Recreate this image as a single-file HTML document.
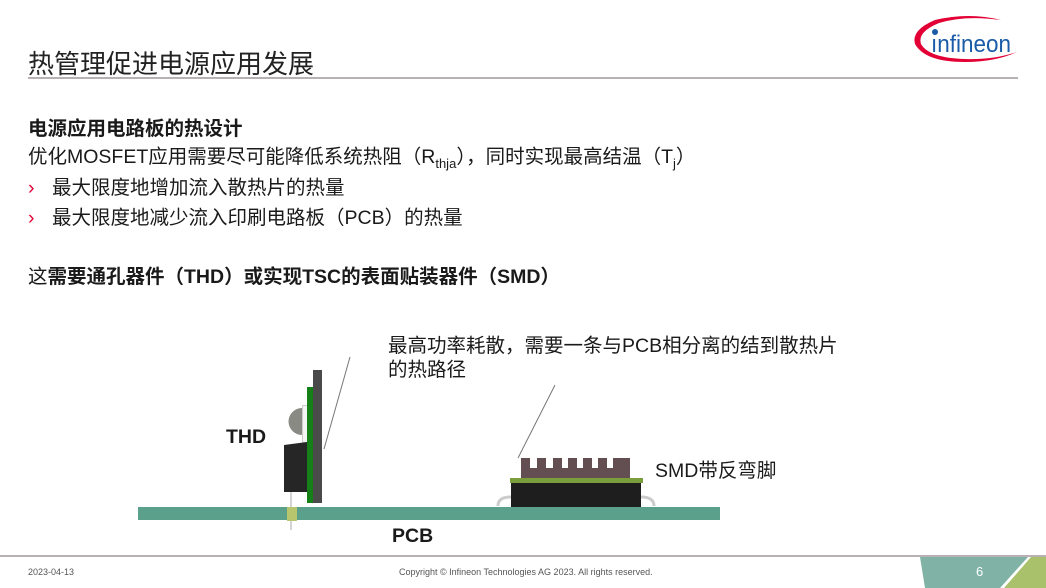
<!DOCTYPE html>
<html><head><meta charset="utf-8"><style>
body{margin:0;width:1046px;height:588px;position:relative;background:#fff;overflow:hidden;font-family:"Liberation Sans","Noto Sans CJK SC",sans-serif;color:#1a1a1a}
.a{position:absolute;white-space:nowrap}
</style></head><body>
<div class="a" style="left:28px;top:44px;font-size:26px;color:#222">热管理促进电源应用发展</div>
<div class="a" style="left:28px;top:77px;width:990px;height:2px;background:#b8b0b3"></div>
<svg class="a" style="left:905px;top:10px" width="120" height="60" viewBox="0 0 120 60">
<path d="M30 10 Q6 20 10 34 Q20 52 60 52 Q90 52 112 42 Q88 50 60 49 Q24 48 16 34 Q12 22 34 13 Q60 5 96 10 Q64 2 30 10Z" fill="#e30034"/>
<circle cx="30" cy="22" r="3" fill="#1a5ba8"/>
<text x="26" y="42" font-family="Liberation Sans" font-size="24" fill="#1a5ba8" textLength="80" lengthAdjust="spacingAndGlyphs">ınfineon</text>
</svg>
<div class="a" style="left:28px;top:112px;font-size:19.5px;font-weight:bold">电源应用电路板的热设计</div>
<div class="a" style="left:28px;top:140px;font-size:19.5px">优化MOSFET应用需要尽可能降低系统热阻（R<sub style="font-size:13px">thja</sub>），同时实现最高结温（T<sub style="font-size:13px">j</sub>）</div>
<div class="a" style="left:28px;top:171px;font-size:19.5px"><span style="color:#e30034;display:inline-block;width:24px">›</span>最大限度地增加流入散热片的热量</div>
<div class="a" style="left:28px;top:201px;font-size:19.5px"><span style="color:#e30034;display:inline-block;width:24px">›</span>最大限度地减少流入印刷电路板（PCB）的热量</div>
<div class="a" style="left:28px;top:260px;font-size:19.5px;font-weight:bold"><span style="font-weight:normal">这</span>需要通孔器件（THD）或实现TSC的表面贴装器件（SMD）</div>
<div class="a" style="left:388px;top:334px;font-size:19.5px;line-height:24px">最高功率耗散，需要一条与PCB相分离的结到散热片<br>的热路径</div>
<div class="a" style="left:226px;top:426px;font-size:19.5px;font-weight:bold">THD</div>
<div class="a" style="left:655px;top:454px;font-size:19.5px">SMD带反弯脚</div>
<div class="a" style="left:392px;top:525px;font-size:19.5px;font-weight:bold">PCB</div>
<svg class="a" style="left:0;top:0" width="1046" height="588">
<line x1="350" y1="357" x2="324" y2="449" stroke="#777" stroke-width="1"/>
<line x1="555" y1="385" x2="518" y2="458" stroke="#777" stroke-width="1"/>
<rect x="138" y="507" width="582" height="13" fill="#5aa08a"/>
<line x1="291" y1="492" x2="291" y2="530" stroke="#aaa"/>
<path d="M302 408 a13 13 0 0 0 0 27z" fill="#8a8a84"/>
<rect x="302.5" y="405.5" width="5" height="37" fill="#f4f4f4" stroke="#ccc"/>
<path d="M284 445 L307 442 V492 H284Z" fill="#262626"/>
<rect x="313" y="370" width="9" height="133" fill="#4a4a4a"/>
<rect x="307" y="387" width="6" height="116" fill="#168018"/>
<rect x="287" y="507" width="10" height="14" fill="#b7c56c"/>
<path d="M498 506 q0-9 13-9 M654 506 q0-9-13-9" stroke="#ccc" stroke-width="3" fill="none"/>
<rect x="511" y="483" width="130" height="24" fill="#1e1e1e"/>
<rect x="510" y="478" width="133" height="5" fill="#7a9e3c"/>
<path d="M521 478 V458 H530 V468 H537 V458 H546 V468 H553 V458 H562 V468 H568 V458 H577 V468 H583 V458 H592 V468 H598 V458 H607 V468 H613 V458 H630 V478Z" fill="#634f51"/>
<line x1="0" y1="556" x2="1046" y2="556" stroke="#b8b0b3" stroke-width="2"/>
<polygon points="920,557 1046,557 1046,588 925,588" fill="#80b3a6"/>
<polygon points="1028,557 1046,557 1046,588 1000,588" fill="#fff"/>
<polygon points="1031,557 1046,557 1046,588 1004,588" fill="#a9c16a"/>
</svg>
<div class="a" style="left:28px;top:567px;font-size:9px;color:#555">2023-04-13</div>
<div class="a" style="left:399px;top:567px;font-size:9px;color:#555">Copyright © Infineon Technologies AG 2023. All rights reserved.</div>
<div class="a" style="left:976px;top:564px;font-size:13px;color:#fff">6</div>
</body></html>
